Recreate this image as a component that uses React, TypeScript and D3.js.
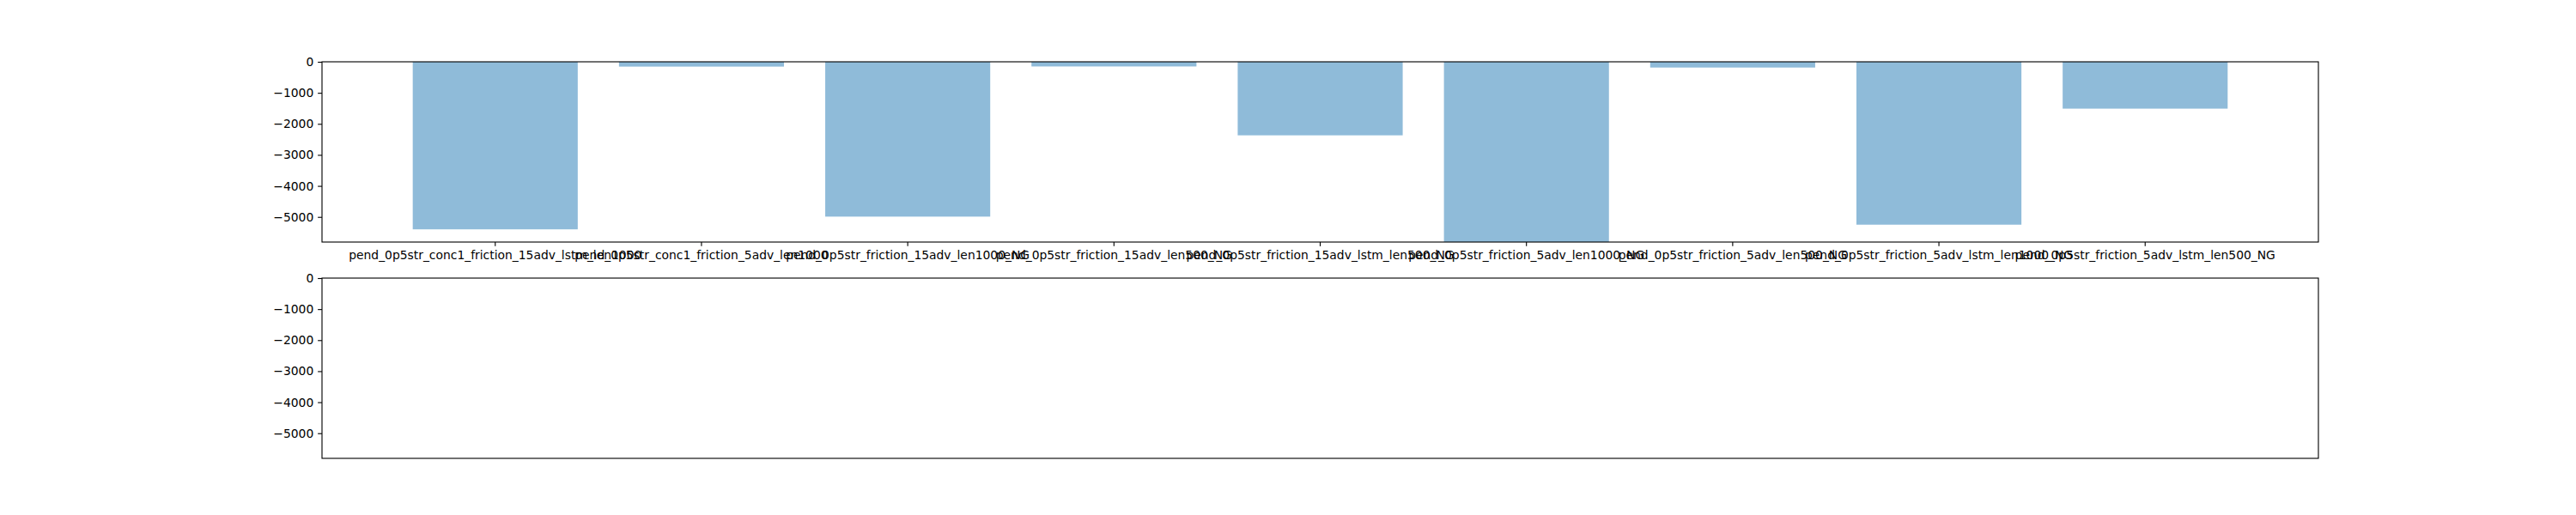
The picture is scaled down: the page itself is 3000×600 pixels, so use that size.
import { useEffect, useRef } from "react"
import * as d3 from "d3"

const categories = [
  "pend_0p5str_conc1_friction_15adv_lstm_len1000",
  "pend_0p5str_conc1_friction_5adv_len1000",
  "pend_0p5str_friction_15adv_len1000_NG",
  "pend_0p5str_friction_15adv_len500_NG",
  "pend_0p5str_friction_15adv_lstm_len500_NG",
  "pend_0p5str_friction_5adv_len1000_NG",
  "pend_0p5str_friction_5adv_len500_NG",
  "pend_0p5str_friction_5adv_lstm_len1000_NG",
  "pend_0p5str_friction_5adv_lstm_len500_NG",
]

const values = [-5400, -155, -4990, -150, -2370, -5810, -185, -5250, -1510]

const yTicks = [0, -1000, -2000, -3000, -4000, -5000]

export default function App() {
  const svgRef = useRef<SVGSVGElement>(null)

  useEffect(() => {
    if (!svgRef.current) return
    const root = d3.select(svgRef.current)
    root.selectAll("*").remove()

    const width = 3000
    const height = 600
    const left = 375
    const right = 2700
    const font = "DejaVu Sans"
    const fontSize = 13.89
    const tickLen = 4.86

    root.attr("width", width).attr("height", height)
    root.append("rect").attr("width", width).attr("height", height).attr("fill", "#fff")

    const x = d3
      .scaleBand()
      .domain(categories)
      .range([left, right])
      .paddingInner(0.2)
      .paddingOuter(0.44)

    const yMin = d3.min(values)!

    // two stacked axes, the lower one is empty
    const panels = [
      { top: 72, bottom: 282, bars: true },
      { top: 324, bottom: 534, bars: false },
    ]

    panels.forEach((p) => {
      const y = d3.scaleLinear().domain([yMin, 0]).range([p.bottom, p.top])
      const g = root.append("g")

      if (p.bars) {
        g.selectAll("rect.bar")
          .data(values)
          .enter()
          .append("rect")
          .attr("class", "bar")
          .attr("x", (_, i) => x(categories[i])!)
          .attr("width", x.bandwidth())
          .attr("y", y(0))
          .attr("height", (d) => y(d) - y(0))
          .attr("fill", "#1f77b4")
          .attr("fill-opacity", 0.5)

        const xAxis = g
          .append("g")
          .attr("transform", `translate(0,${p.bottom})`)
          .call(d3.axisBottom(x).tickSize(tickLen).tickPadding(4.86))
        xAxis.select(".domain").remove()
        xAxis.selectAll("line").attr("stroke", "#000").attr("stroke-width", 1.11)
        xAxis
          .selectAll("text")
          .attr("fill", "#000")
          .attr("font-family", font)
          .attr("font-size", fontSize)
          .attr("dy", "0.76em")
      }

      const yAxis = g
        .append("g")
        .attr("transform", `translate(${left},0)`)
        .call(d3.axisLeft(y).tickValues(yTicks).tickSize(tickLen).tickPadding(4.86).tickFormat(d3.format("d")))
      yAxis.select(".domain").remove()
      yAxis.selectAll("line").attr("stroke", "#000").attr("stroke-width", 1.11)
      yAxis
        .selectAll("text")
        .attr("fill", "#000")
        .attr("font-family", font)
        .attr("font-size", fontSize)

      g.append("rect")
        .attr("x", left)
        .attr("y", p.top)
        .attr("width", right - left)
        .attr("height", p.bottom - p.top)
        .attr("fill", "none")
        .attr("stroke", "#000")
        .attr("stroke-width", 1.11)
    })
  }, [])

  return <svg ref={svgRef} style={{ position: "absolute", left: 0, top: 0 }} />
}
